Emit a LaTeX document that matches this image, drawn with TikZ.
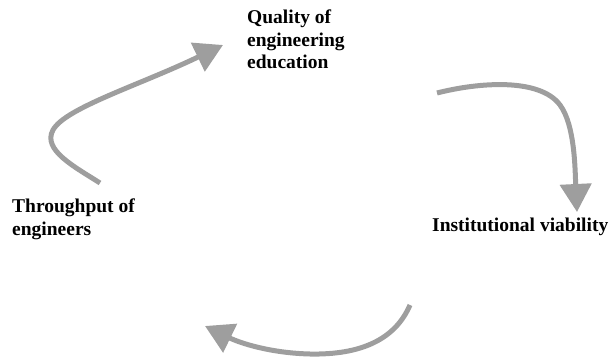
\documentclass[tikz,border=0pt]{standalone}
\usepackage{fontspec}
\setmainfont{Liberation Serif}
\usetikzlibrary{arrows.meta}
\begin{document}
\begin{tikzpicture}[x=1pt,y=-1pt,
  label/.style={font=\bfseries\fontsize{19.5}{22.5}\selectfont, inner sep=0pt, align=left, anchor=base west},
  loop/.style={draw=black!38, line width=5pt, -{Triangle[length=28pt,width=31pt,fill=black!38]}}]
\useasboundingbox (0,0) rectangle (610,358);
\node[label] (qual) at (247,69) {Quality of\\engineering\\education};
\node[label] (thru) at (12,235) {Throughput of\\engineers};
\node[label] (inst) at (432,231) {Institutional viability};
% arrow ends
\coordinate (a1s) at (100,183);
\coordinate (a1m) at (53,130);
\coordinate (a1e) at (223,45);
\coordinate (a2s) at (437,93);
\coordinate (a2m) at (560,105);
\coordinate (a2e) at (577,212);
\coordinate (a3s) at (410,305);
\coordinate (a3m) at (310,354);
\coordinate (a3e) at (205,326);
\draw[loop] (a1s) .. controls (75,167) and (42,150) .. (a1m) .. controls (65,108) and (140,85) .. (a1e);
\draw[loop] (a2s) .. controls (480,82) and (540,78) .. (a2m) .. controls (575,125) and (575,170) .. (a2e);
\draw[loop] (a3s) .. controls (395,340) and (360,355) .. (a3m) .. controls (270,353) and (240,343) .. (a3e);
\end{tikzpicture}
\end{document}
